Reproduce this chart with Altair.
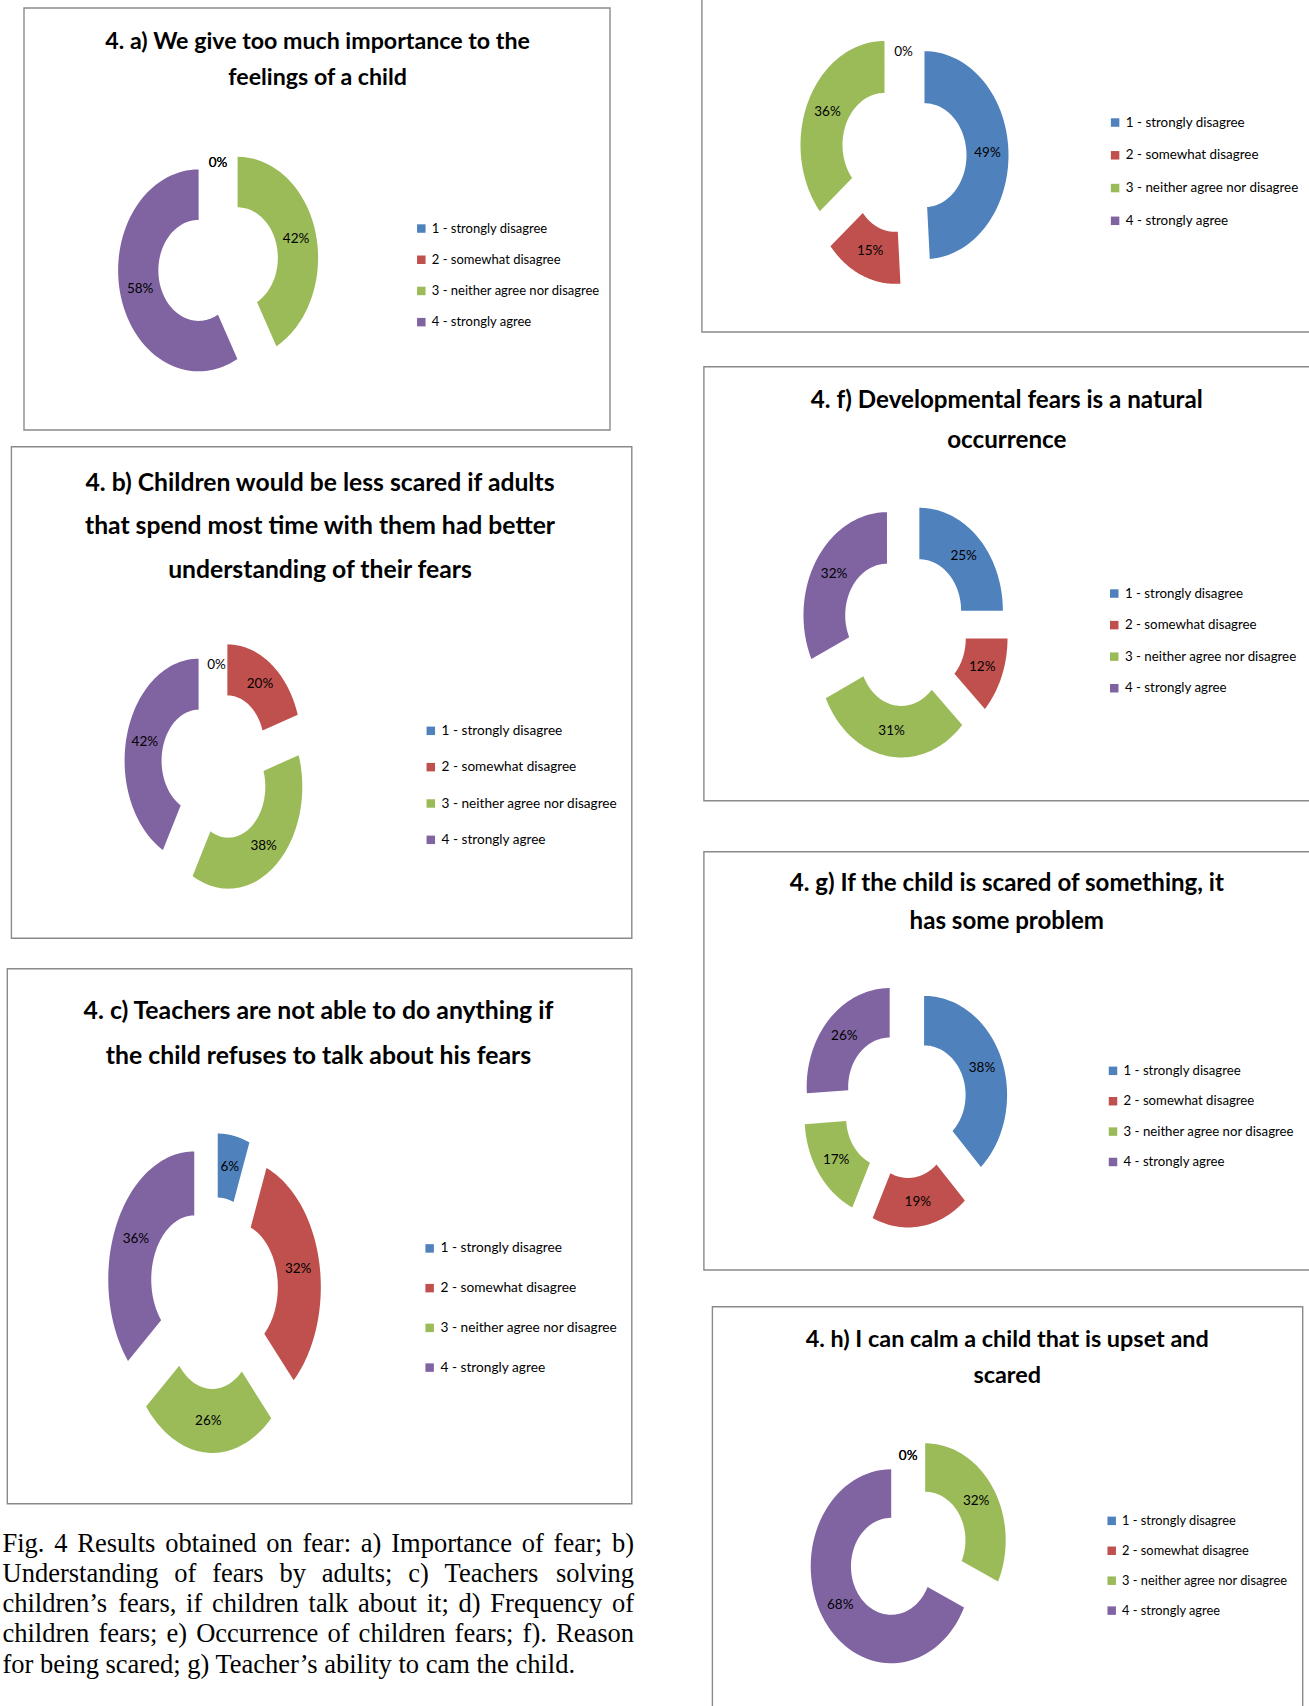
import altair as alt
import pandas as pd

# ---------------- data ----------------
CATS = ["1 - strongly disagree", "2 - somewhat disagree",
        "3 - neither agree nor disagree", "4 - strongly agree"]
COLORS = ["#4F81BD", "#C0504D", "#9BBB59", "#8064A2"]

VAL_A = [0, 0, 42, 58]
VAL_B = [0, 20, 38, 42]
VAL_C = [6, 32, 26, 36]
VAL_E = [49, 15, 36, 0]
VAL_F = [25, 12, 31, 32]
VAL_G = [38, 19, 17, 26]
VAL_H = [0, 0, 32, 68]

TITLE_A = ["4. a) We give too much importance to the", "feelings of a child"]
TITLE_B = ["4. b) Children would be less scared if adults",
           "that spend most time with them had better",
           "understanding of their fears"]
TITLE_C = ["4. c) Teachers are not able to do anything if",
           "the child refuses to talk about his fears"]
TITLE_F = ["4. f) Developmental fears is a natural", "occurrence"]
TITLE_G = ["4. g) If the child is scared of something, it", "has some problem"]
TITLE_H = ["4. h) I can calm a child that is upset and", "scared"]

CAPTION = [
    "Fig. 4 Results obtained on fear: a) Importance of fear; b)",
    "Understanding of fears by adults; c) Teachers solving",
    "children\u2019s fears, if children talk about it; d) Frequency of",
    "children fears; e) Occurrence of children fears; f). Reason",
    "for being scared; g) Teacher\u2019s ability to cam the child.",
]

# ---------------- style / layout ----------------
SANS = "Lato, Liberation Sans, sans-serif"
SERIF = "Liberation Serif, Times New Roman, serif"
FRAME = "#8a8a8a"
EXPLODE = 0.25
HOLE = 0.5
NSTEP = 72

# panel: frame (x0,y0,x1,y1), title (lines, cx, [ys], size),
# donut (cx,cy,rx,ry), legend (x, first-row y, spacing, font size)
PANELS = [
    dict(vals=VAL_A, frame=(24, 8, 610, 430), title=(TITLE_A, 317.6, [41.5, 78], 23.2),
         donut=(218.1, 264.1, 80.5, 101), legend=(417.3, 227.7, 31.5, 13.0)),
    dict(vals=VAL_B, frame=(11.4, 446.7, 631.8, 938.3),
         title=(TITLE_B, 320, [483.8, 527.2, 570.5], 24.7),
         donut=(216.5, 767, 74, 102), legend=(426.5, 730, 36.3, 13.6)),
    dict(vals=VAL_C, frame=(7.3, 968.8, 631.8, 1503.7), title=(TITLE_C, 318.5, [1011.5, 1057], 24.8),
         donut=(213.7, 1293, 86, 128), legend=(425.3, 1247.6, 39.8, 13.7)),
    dict(vals=VAL_E, frame=(701.9, -10, 1315, 332), title=None,
         donut=(903.5, 156, 84, 104), legend=(1110.9, 121.7, 32.5, 13.4)),
    dict(vals=VAL_F, frame=(703.9, 366.7, 1315, 800.7), title=(TITLE_F, 1006.8, [400.5, 440.5], 24.2),
         donut=(904.6, 629, 83.5, 103), legend=(1110.1, 592.7, 32.2, 13.3)),
    dict(vals=VAL_G, frame=(703.9, 851.7, 1315, 1270), title=(TITLE_G, 1006.8, [884, 922], 24.1),
         donut=(904.8, 1104, 83, 99), legend=(1108.9, 1070, 30.9, 13.2)),
    dict(vals=VAL_H, frame=(712.4, 1306.7, 1302.7, 1720), title=(TITLE_H, 1007.2, [1339.5, 1375.8], 23.4),
         donut=(908.2, 1553.3, 80.5, 97), legend=(1107.8, 1520, 30, 12.8)),
]

LBL_FONT = 13.5
LEG_DX = -2.5
LEG_DY = 1.5

dummy = alt.Data(values=[{}])


def frame_layer(x0, y0, x1, y1):
    return alt.Chart(dummy).mark_rect(fill="transparent", stroke=FRAME, strokeWidth=1.4).encode(
        x=alt.value(x0), x2=alt.value(x1), y=alt.value(y0), y2=alt.value(y1))


def title_layers(lines, cx, ys, size):
    out = []
    for line, y in zip(lines, ys):
        out.append(alt.Chart(dummy).mark_text(
            text=line, font=SANS, fontWeight="bold", fontSize=size, color="black",
            align="center", baseline="middle").encode(x=alt.value(cx), y=alt.value(y)))
    return out


def donut_layer(vals, cx, cy, rx, ry, lx, ly, sp, lf):
    df = pd.DataFrame({"cat": CATS, "idx": list(range(len(CATS))), "value": vals})
    xs = alt.Scale(domain=[-1, 1], range=[cx - rx, cx + rx], nice=False, zero=False)
    ys = alt.Scale(domain=[-1, 1], range=[cy + ry, cy - ry], nice=False, zero=False)
    base = (alt.Chart(df)
            .transform_window(cum="sum(value)", sort=[alt.SortField("idx", order="ascending")],
                              frame=[None, 0])
            .transform_joinaggregate(total="sum(value)")
            .transform_calculate(a0="2*PI*(datum.cum - datum.value)/datum.total")
            .transform_calculate(a1="2*PI*datum.cum/datum.total")
            .transform_calculate(am="(datum.a0 + datum.a1)/2")
            .transform_calculate(ox=f"{EXPLODE}*sin(datum.am)")
            .transform_calculate(oy=f"{EXPLODE}*cos(datum.am)"))
    n = NSTEP
    poly = (base
            .transform_calculate(steps=f"sequence(0, {2 * n})")
            .transform_flatten(["steps"])
            .transform_calculate(
                t=f"datum.steps < {n} ? datum.a0 + (datum.a1 - datum.a0)*datum.steps/{n - 1}"
                  f" : datum.a1 - (datum.a1 - datum.a0)*(datum.steps - {n})/{n - 1}")
            .transform_calculate(r=f"datum.steps < {n} ? 1 : {HOLE}")
            .transform_calculate(ux="datum.ox + datum.r*sin(datum.t)")
            .transform_calculate(uy="datum.oy + datum.r*cos(datum.t)")
            .mark_line(filled=True, interpolate="linear-closed", strokeWidth=0)
            .encode(
                x=alt.X("ux:Q", scale=xs, axis=None),
                y=alt.Y("uy:Q", scale=ys, axis=None),
                order=alt.Order("steps:Q"),
                color=alt.Color("cat:N", scale=alt.Scale(domain=CATS, range=COLORS),
                                legend=alt.Legend(
                                    orient="none", legendX=lx + LEG_DX,
                                    legendY=ly - 0.55 * lf + LEG_DY,
                                    title=None, symbolType="square", symbolSize=72,
                                    symbolStrokeWidth=0, labelFont=SANS,
                                    labelFontSize=lf, labelColor="black",
                                    labelOffset=4, rowPadding=sp - 1.1 * lf, padding=0,
                                    labelLimit=400)),
            ))
    labels = (base
              .transform_calculate(lxp="datum.ox + 0.75*sin(datum.am)")
              .transform_calculate(lyp="datum.oy + 0.75*cos(datum.am)")
              .transform_calculate(txt="datum.value + '%'")
              .mark_text(font=SANS, fontSize=LBL_FONT, color="black",
                         align="center", baseline="middle")
              .encode(x=alt.X("lxp:Q", scale=xs, axis=None),
                      y=alt.Y("lyp:Q", scale=ys, axis=None),
                      text="txt:N"))
    return alt.layer(poly, labels)


# caption: justified lines (Times metrics)
TIMES = {
    'a': 444, 'b': 500, 'c': 444, 'd': 500, 'e': 444, 'f': 333, 'g': 500, 'h': 500, 'i': 278,
    'j': 278, 'k': 500, 'l': 278, 'm': 778, 'n': 500, 'o': 500, 'p': 500, 'q': 500, 'r': 333,
    's': 389, 't': 278, 'u': 500, 'v': 500, 'w': 722, 'x': 500, 'y': 500, 'z': 444,
    'F': 556, 'I': 333, 'O': 722, 'R': 667, 'T': 611, 'U': 722, '4': 500,
    '.': 250, ':': 278, ';': 278, ')': 333, '(': 333, ',': 250, '\u2019': 333, ' ': 250,
}
CAP_SIZE = 26.5
CAP_LEFT, CAP_RIGHT = 2.5, 634.0
CAP_Y0, CAP_DY = 1551.5, 30.3


def tw(s):
    return sum(TIMES.get(ch, 500) for ch in s) / 1000.0 * CAP_SIZE


rows = []
for i, line in enumerate(CAPTION):
    y = CAP_Y0 + i * CAP_DY
    words = line.split(" ")
    if i < len(CAPTION) - 1:
        widths = [tw(w) for w in words]
        gap = (CAP_RIGHT - CAP_LEFT - sum(widths)) / (len(words) - 1)
        x = CAP_LEFT
        for w, wd in zip(words, widths):
            rows.append({"word": w, "x": x, "y": y})
            x += wd + gap
    else:
        rows.append({"word": line, "x": CAP_LEFT, "y": y})
cap_df = pd.DataFrame(rows)
caption = alt.Chart(cap_df).mark_text(
    font=SERIF, fontSize=CAP_SIZE, color="black", align="left", baseline="alphabetic"
).encode(x=alt.X("x:Q", scale=None, axis=None), y=alt.Y("y:Q", scale=None, axis=None),
         text="word:N")

layers = []
for p in PANELS:
    layers.append(frame_layer(*p["frame"]))
for p in PANELS:
    if p["title"] is not None:
        lines, tcx, tys, tsize = p["title"]
        layers.extend(title_layers(lines, tcx, tys, tsize))
for p in PANELS:
    cx, cy, rx, ry = p["donut"]
    lx, ly, sp, lf = p["legend"]
    layers.append(donut_layer(p["vals"], cx, cy, rx, ry, lx, ly, sp, lf))
layers.append(caption)

chart = (alt.layer(*layers)
         .resolve_scale(x="independent", y="independent", color="independent")
         .properties(width=1309, height=1706, padding=0,
                     autosize=alt.AutoSizeParams(type="none"), background="white")
         .configure_view(strokeWidth=0))

chart.save("out.html", embed_options={"renderer": "svg", "actions": False})
